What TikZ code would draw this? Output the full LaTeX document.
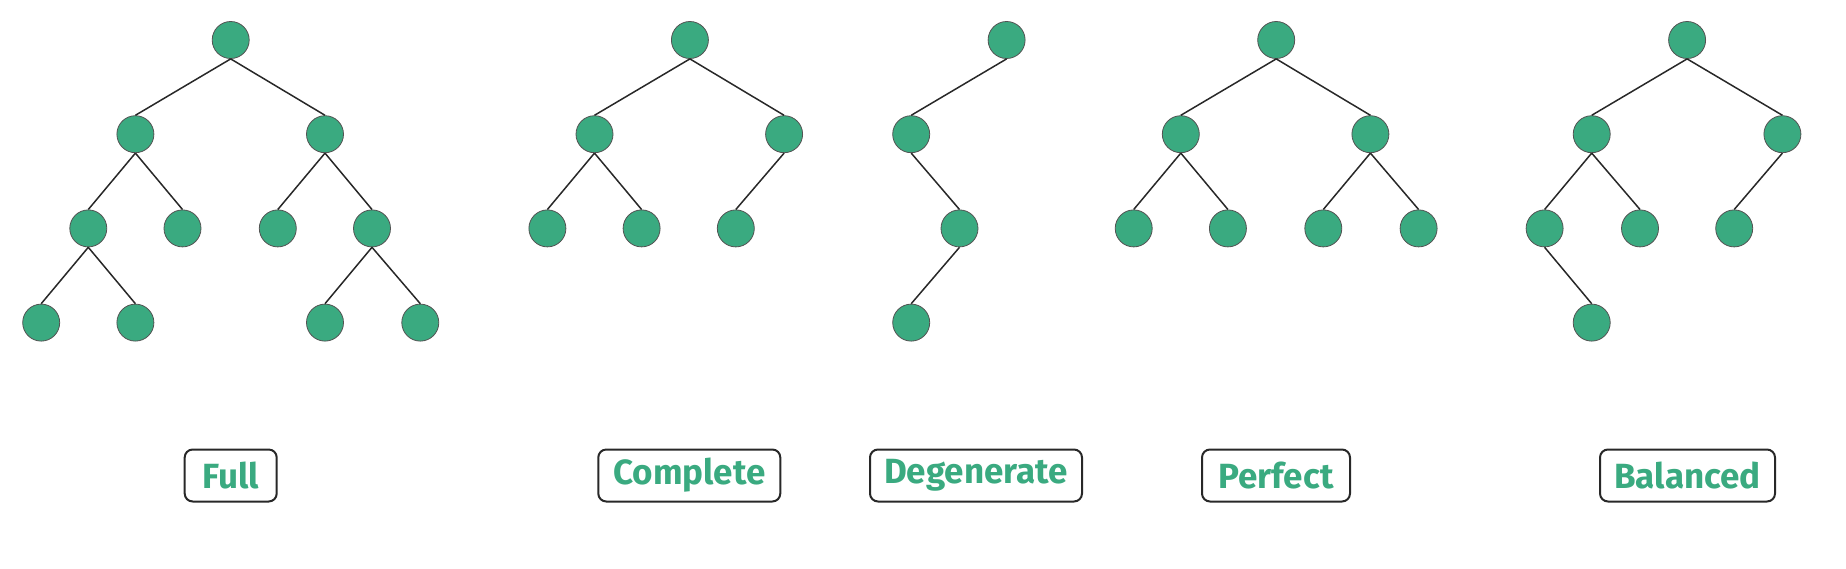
\documentclass[tikz,border=0pt]{standalone}
\usepackage{fontspec}
\setmainfont{Fira Sans}
\definecolor{tgreen}{RGB}{58,170,128}
\definecolor{tline}{RGB}{40,40,40}
\tikzset{
  tn/.style={circle, fill=tgreen, draw=tline!80, line width=0.8pt, minimum size=37pt, inner sep=0pt},
  te/.style={line width=1.5pt, draw=tline},
  lbl/.style={draw=tline, line width=2pt, rounded corners=8pt, minimum height=52pt, inner sep=0pt,
     text=tgreen, font=\fontsize{35}{38}\selectfont\bfseries},
}
\begin{document}
\begin{tikzpicture}[x=1pt,y=-1pt]
\useasboundingbox (0,0) rectangle (1846,568);
% Full
\node[tn] (f0) at (230.7,40) {};
\node[tn] (f1) at (135.4,134.2) {};
\node[tn] (f2) at (325,134.2) {};
\node[tn] (f3) at (88.3,228.4) {};
\node[tn] (f4) at (182.5,228.4) {};
\node[tn] (f5) at (277.8,228.4) {};
\node[tn] (f6) at (372,228.4) {};
\node[tn] (f7) at (41.2,322.6) {};
\node[tn] (f8) at (135.4,322.6) {};
\node[tn] (f9) at (325,322.6) {};
\node[tn] (f10) at (420.3,322.6) {};
\draw[te] (f0.south)--(f1.north) (f0.south)--(f2.north) (f1.south)--(f3.north) (f1.south)--(f4.north)
 (f2.south)--(f5.north) (f2.south)--(f6.north) (f3.south)--(f7.north) (f3.south)--(f8.north)
 (f6.south)--(f9.north) (f6.south)--(f10.north);
% Complete
\node[tn] (c0) at (689.9,40) {};
\node[tn] (c1) at (594.5,134.2) {};
\node[tn] (c2) at (784.1,134.2) {};
\node[tn] (c3) at (547.4,228.4) {};
\node[tn] (c4) at (641.6,228.4) {};
\node[tn] (c5) at (735.8,228.4) {};
\draw[te] (c0.south)--(c1.north) (c0.south)--(c2.north) (c1.south)--(c3.north) (c1.south)--(c4.north)
 (c2.south)--(c5.north);
% Degenerate
\node[tn] (d0) at (1006.6,40) {};
\node[tn] (d1) at (911.2,134.2) {};
\node[tn] (d2) at (959.5,228.4) {};
\node[tn] (d3) at (911.2,322.6) {};
\draw[te] (d0.south)--(d1.north) (d1.south)--(d2.north) (d2.south)--(d3.north);
% Perfect
\node[tn] (p0) at (1276.2,40) {};
\node[tn] (p1) at (1180.8,134.2) {};
\node[tn] (p2) at (1370.4,134.2) {};
\node[tn] (p3) at (1133.7,228.4) {};
\node[tn] (p4) at (1227.9,228.4) {};
\node[tn] (p5) at (1323.3,228.4) {};
\node[tn] (p6) at (1418.6,228.4) {};
\draw[te] (p0.south)--(p1.north) (p0.south)--(p2.north) (p1.south)--(p3.north) (p1.south)--(p4.north)
 (p2.south)--(p5.north) (p2.south)--(p6.north);
% Balanced
\node[tn] (b0) at (1687.1,40) {};
\node[tn] (b1) at (1591.7,134.2) {};
\node[tn] (b2) at (1782.4,134.2) {};
\node[tn] (b3) at (1544.6,228.4) {};
\node[tn] (b4) at (1640,228.4) {};
\node[tn] (b5) at (1734.2,228.4) {};
\node[tn] (b6) at (1591.7,322.6) {};
\draw[te] (b0.south)--(b1.north) (b0.south)--(b2.north) (b1.south)--(b3.north) (b1.south)--(b4.north)
 (b2.south)--(b5.north) (b3.south)--(b6.north);
% Labels
\node[lbl, minimum width=92pt] (lf) at (230.7,475.5) {Full};
\node[lbl, minimum width=182pt] (lc) at (689.3,475.5) {Complete};
\node[lbl, minimum width=212pt] (ld) at (976,475.5) {Degenerate};
\node[lbl, minimum width=148pt] (lp) at (1276,475.5) {Perfect};
\node[lbl, minimum width=175pt] (lb) at (1687.5,475.5) {Balanced};
\end{tikzpicture}
\end{document}
